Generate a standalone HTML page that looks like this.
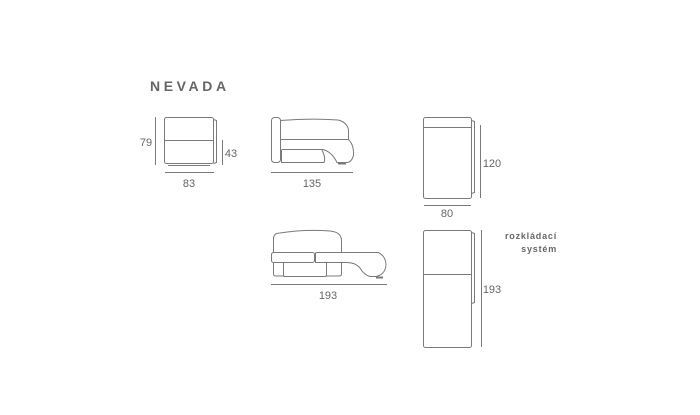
<!DOCTYPE html>
<html><head><meta charset="utf-8"><style>
html,body{margin:0;padding:0;background:#fff;}
svg{display:block;}
text{font-family:"Liberation Sans",sans-serif;fill:#666;}
</style></head><body>
<svg width="700" height="415" viewBox="0 0 700 415" xmlns="http://www.w3.org/2000/svg">
<g fill="none" stroke="#7a7a7a" stroke-width="1">
<!-- front chair -->
<rect x="164.5" y="117.5" width="49" height="46" rx="2"/>
<line x1="164.5" y1="140.5" x2="213.5" y2="140.5"/>
<path d="M213.5 119.5 L216.5 120.5 L216.5 162.5 L213.5 163.5"/>
<line x1="168" y1="165.5" x2="210" y2="165.5"/>
<line x1="155.5" y1="117" x2="155.5" y2="165"/>
<line x1="222.5" y1="140" x2="222.5" y2="165"/>
<line x1="165" y1="172.5" x2="214" y2="172.5"/>
<!-- side view 135 -->
<rect x="271.5" y="117.5" width="9" height="45" rx="3"/>
<path d="M280.5 120.5 Q310 118 338 120 Q347 122 348.5 130 L348.5 139.5"/>
<path d="M280.5 139.5 L348.5 139.5 Q354 145 353.5 155 Q352 162 347 162.5 L337 162.5 Q332 152 323 149.5 L282 149.5"/>
<path d="M281.5 149.5 L281.5 162.5 L324 162.5 Q326 158 322 150"/>
<line x1="338" y1="163.5" x2="346" y2="163.5" stroke-width="2"/>
<line x1="271" y1="172.5" x2="353" y2="172.5"/>
<!-- top view 80 -->
<rect x="423.5" y="117.5" width="48" height="81" rx="2"/>
<line x1="423.5" y1="127.5" x2="471.5" y2="127.5"/>
<path d="M471.5 120.5 L474.5 121.5 L474.5 192.5 L471.5 193.5"/>
<line x1="480.5" y1="125" x2="480.5" y2="198"/>
<line x1="424" y1="205.5" x2="471" y2="205.5"/>
<!-- unfolded side -->
<path d="M273.5 252.5 L273.5 238 Q274 233 280 233 Q305 229 330 231 Q341 232 341.5 240 L341.5 252.5"/>
<rect x="271.5" y="252.5" width="43" height="10" rx="2"/>
<path d="M315.5 262.5 L315.5 253 Q316 252.5 318 252.5 L378 252.5 Q386 256 386 265 Q385 275 376 276.5 L370 276.5 Q364 275 360 268 Q355 262 345 262.5 Z"/>
<path d="M283.5 262.5 L283.5 275 Q283.5 276.5 285 276.5 L325 276.5 Q326.5 276.5 326.5 275 L326.5 262.5"/>
<path d="M273.5 262.5 L273.5 274 Q273.5 276 276 276 L283.5 276"/>
<path d="M326.5 276 L339 276 Q341.5 276 341.5 274 L341.5 262.5"/>
<line x1="376" y1="277.5" x2="383" y2="277.5" stroke-width="2"/>
<line x1="271" y1="284.5" x2="387" y2="284.5"/>
<!-- unfolded top -->
<rect x="423.5" y="230.5" width="48" height="117" rx="2"/>
<line x1="423.5" y1="274.5" x2="471.5" y2="274.5"/>
<path d="M471.5 232.5 L474.5 233.5 L474.5 302.5 L471.5 303.5"/>
<line x1="481.5" y1="230" x2="481.5" y2="347"/>
</g>
<text x="150" y="91" font-size="14" font-weight="bold" letter-spacing="3.6" fill="#555">NEVADA</text>
<g font-size="11" text-anchor="middle">
<text x="146" y="146">79</text>
<text x="231" y="157">43</text>
<text x="189" y="187">83</text>
<text x="312" y="187">135</text>
<text x="492" y="167">120</text>
<text x="447" y="217">80</text>
<text x="328" y="299">193</text>
<text x="492" y="293">193</text>
</g>
<g font-size="9" font-weight="bold" text-anchor="end" letter-spacing="0.8" fill="#555">
<text x="557" y="239">rozkládací</text>
<text x="557" y="252">systém</text>
</g>
</svg>
</body></html>
